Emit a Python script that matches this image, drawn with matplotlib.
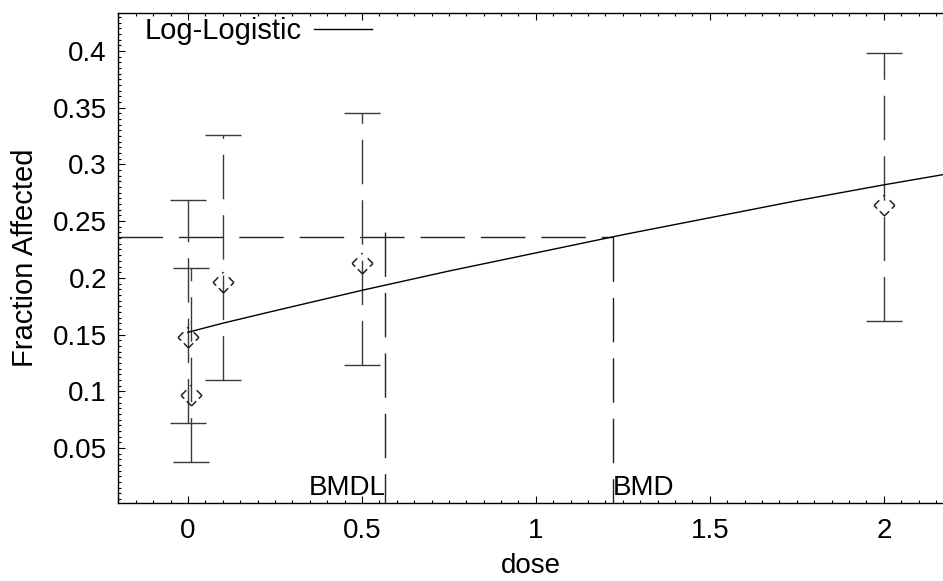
import matplotlib
matplotlib.use("Agg")
import matplotlib.pyplot as plt
from matplotlib.path import Path
from matplotlib.ticker import MultipleLocator, FuncFormatter
import numpy as np

plt.rcParams['font.family'] = ['Liberation Sans', 'DejaVu Sans']
plt.rcParams['lines.scale_dashes'] = False

# observed data (dose, fraction affected, lower / upper confidence limits)
dose = [0.0, 0.01, 0.1, 0.5, 2.0]
frac = [0.148, 0.097, 0.196, 0.213, 0.264]
lower = [0.072, 0.038, 0.110, 0.123, 0.162]
upper = [0.269, 0.209, 0.326, 0.345, 0.398]

# fitted log-logistic curve
curve_dose = [0.0, 0.1, 0.25, 0.5, 0.75, 1.0, 1.25, 1.5, 1.75, 2.0, 2.17]
curve_frac = [0.152, 0.160, 0.171, 0.189, 0.206, 0.222, 0.238, 0.253, 0.268, 0.282, 0.291]

# benchmark values
bmr_level = 0.236
bmd = 1.222
bmdl = 0.567
bmdl_top = 0.240

x_ticks = [0, 0.5, 1, 1.5, 2]
y_ticks = [0.05, 0.1, 0.15, 0.2, 0.25, 0.3, 0.35, 0.4]

W, H = 943, 581
fig = plt.figure(figsize=(W / 100, H / 100), dpi=100)
ax = fig.add_axes([118 / W, 78 / H, 825 / W, 490 / H])
ax.set_xlim(-0.201, 2.170)
ax.set_ylim(0.0015, 0.4335)

dash = (0, (32, 11.5))
gray = '#3a3a3a'

# error bars
eb = ax.errorbar(dose, frac,
                 yerr=[np.array(frac) - np.array(lower), np.array(upper) - np.array(frac)],
                 fmt='none', ecolor=gray, elinewidth=1.0, capsize=13, capthick=1.0, zorder=3)
for coll in eb[2]:
    coll.set_linestyle(dash)

# dashed diamond marker
verts = [(-1, 0), (-0.5, 0.5),
         (0.5, 0.5), (1, 0),
         (-1, 0), (-0.7, -0.3),
         (1, 0), (0.7, -0.3),
         (-0.45, -0.55), (0, -1),
         (0, -1), (0.45, -0.55),
         (-0.12, 0.88), (0, 1)]
codes = [Path.MOVETO, Path.LINETO] * 7
diamond = Path(verts, codes)
ax.plot(dose, frac, linestyle='none', marker=diamond, markersize=15,
        markerfacecolor='none', markeredgecolor='#222222', markeredgewidth=1.1, zorder=4)

# fitted curve
ax.plot(curve_dose, curve_frac, color='black', linewidth=1.0, label='Log-Logistic', zorder=5)

# BMD / BMDL lines
ax.plot([-0.201, bmd], [bmr_level, bmr_level], color='#222222', linewidth=1.0, linestyle=dash)
ax.plot([bmd, bmd], [bmr_level, 0.0015], color='#222222', linewidth=1.0, linestyle=dash)
ax.plot([bmdl, bmdl], [bmdl_top, 0.0015], color='#222222', linewidth=1.0, linestyle=dash)

ax.text(bmdl, 0.0035, 'BMDL', ha='right', va='bottom', fontsize=20)
ax.text(bmd, 0.0035, 'BMD', ha='left', va='bottom', fontsize=20)

# axes styling
ax.set_xticks(x_ticks)
ax.set_yticks(y_ticks)
ax.xaxis.set_minor_locator(MultipleLocator(0.05))
ax.yaxis.set_minor_locator(MultipleLocator(0.005))
fmt = FuncFormatter(lambda v, p: ('%g' % round(v, 4)))
ax.xaxis.set_major_formatter(fmt)
ax.yaxis.set_major_formatter(fmt)
ax.tick_params(which='both', direction='in', top=True, right=False, labelsize=20, width=0.8)
ax.tick_params(which='major', length=5)
ax.tick_params(which='minor', length=2.5)
ax.tick_params(axis='x', which='major', pad=11)
ax.tick_params(axis='y', which='major', pad=8)
ax.spines['right'].set_visible(False)
for s in ['left', 'top', 'bottom']:
    ax.spines[s].set_linewidth(1.0)

ax.set_xlabel('dose', fontsize=20, labelpad=6)
ax.set_ylabel('Fraction Affected', fontsize=21, labelpad=10)

leg = ax.legend(loc='center left', bbox_to_anchor=((145 - 118) / 825, 1 - (31 - 13) / 490),
                frameon=False, markerfirst=False, fontsize=21, handlelength=2.0,
                handletextpad=0.4, borderpad=0, borderaxespad=0)

fig.savefig('out.png', dpi=100)
